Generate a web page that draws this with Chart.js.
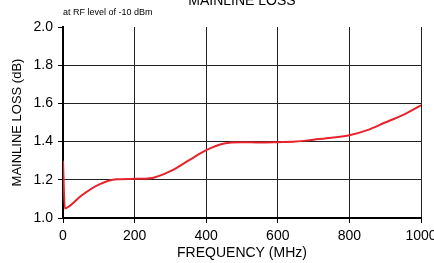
<!DOCTYPE html>
<html>
<head>
<meta charset="utf-8">
<script src="https://cdn.jsdelivr.net/npm/chart.js@4/dist/chart.umd.min.js"></script>
<style>
  html, body { margin: 0; padding: 0; background: #fff; }
  canvas { display: block; }
</style>
</head>
<body>
<canvas id="loss-chart" width="434" height="263"></canvas>
<script>
// frequency (MHz) and mainline loss (dB)
var freqs = [0, 5, 20, 50, 100, 150, 200, 250, 300, 350, 400, 450, 500, 550, 600, 650, 700, 750, 800, 850, 900, 950, 1000];
var loss  = [1.30, 1.05, 1.065, 1.115, 1.175, 1.203, 1.205, 1.21, 1.245, 1.30, 1.355, 1.39, 1.397, 1.395, 1.397, 1.40, 1.41, 1.42, 1.433, 1.46, 1.50, 1.54, 1.59];
var xTicks = [0, 200, 400, 600, 800, 1000];
var yTicks = [1.0, 1.2, 1.4, 1.6, 1.8, 2.0];

var FONT = "'Liberation Sans', Arial, sans-serif";

var points = [];
for (var i = 0; i < freqs.length; i++) {
  points.push({x: freqs[i], y: loss[i]});
}

// title text sits partly above the canvas, subtitle small at left
var headerText = {
  id: 'headerText',
  afterDraw: function(chart) {
    var ctx = chart.ctx;
    ctx.save();
    ctx.fillStyle = '#000';
    ctx.font = '14px ' + FONT;
    ctx.textAlign = 'center';
    ctx.textBaseline = 'alphabetic';
    ctx.fillText('MAINLINE LOSS', 242, 5);
    ctx.font = '9px ' + FONT;
    ctx.textAlign = 'left';
    ctx.textBaseline = 'middle';
    ctx.fillText('at RF level of -10 dBm', 63, 13);
    ctx.restore();
  }
};

var ctx = document.getElementById('loss-chart');
var lossChart = new Chart(ctx, {
  type: 'line',
  data: {
    datasets: [{
      label: 'Mainline loss',
      data: points,
      borderColor: '#e8232b',
      borderWidth: 2,
      pointRadius: 0,
      cubicInterpolationMode: 'monotone',
      fill: false
    }]
  },
  options: {
    responsive: false,
    animation: false,
    layout: { padding: { top: 27, right: 13, left: 0, bottom: 0 } },
    plugins: {
      legend: { display: false },
      tooltip: { enabled: false }
    },
    scales: {
      x: {
        type: 'linear',
        min: 0,
        max: 1000,
        afterBuildTicks: function(scale) {
          scale.ticks = xTicks.map(function(v) { return {value: v}; });
        },
        afterFit: function(scale) {
          scale.height = 45;
          scale.paddingLeft = 0;
          scale.paddingRight = 0;
        },
        ticks: {
          color: '#000',
          font: { family: FONT, size: 14 },
          padding: 5,
          maxRotation: 0,
          callback: function(v) { return String(v); }
        },
        grid: { color: '#222', lineWidth: 1, tickLength: 5, tickColor: '#000' },
        border: { color: '#000', width: 2 },
        title: {
          display: true,
          text: 'FREQUENCY (MHz)',
          color: '#000',
          font: { family: FONT, size: 14 },
          padding: { top: 0, bottom: 1 }
        }
      },
      y: {
        min: 1,
        max: 2,
        afterBuildTicks: function(scale) {
          scale.ticks = yTicks.map(function(v) { return {value: v}; });
        },
        afterFit: function(scale) {
          scale.width = 63;
        },
        ticks: {
          color: '#000',
          font: { family: FONT, size: 14 },
          padding: 5,
          callback: function(v) { return v.toFixed(1); }
        },
        grid: {
          color: function(c) {
            return (c.tick && c.tick.value === 2) ? 'rgba(0,0,0,0)' : '#222';
          },
          lineWidth: 1,
          tickLength: 5,
          tickColor: '#000'
        },
        border: { color: '#000', width: 2 },
        title: {
          display: true,
          text: 'MAINLINE LOSS (dB)',
          color: '#000',
          font: { family: FONT, size: 13 },
          padding: { top: 10, bottom: 0 }
        }
      }
    }
  },
  plugins: [headerText]
});
</script>
</body>
</html>
